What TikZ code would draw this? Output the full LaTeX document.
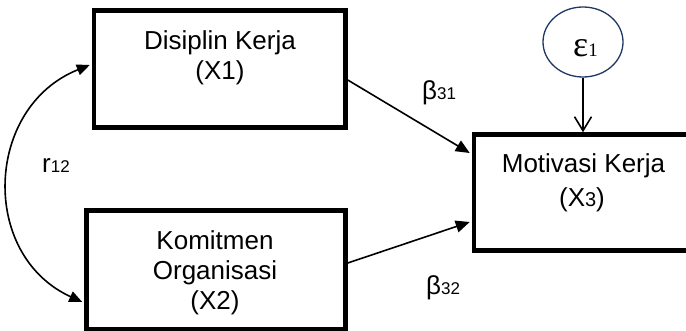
\documentclass[tikz,border=0pt]{standalone}
\usepackage{fontspec}
\setmainfont{Liberation Sans}
\newfontfamily\greekserif{Liberation Serif}
\usetikzlibrary{arrows.meta,shapes.geometric}

\definecolor{ringblue}{RGB}{31,56,100}

\begin{document}
\begin{tikzpicture}[x=1pt,y=-1pt,
  varbox/.style={draw=black, line width=4.5pt, miter limit=10, rectangle, inner sep=0pt},
  label/.style={inner sep=0pt, anchor=base, font=\fontsize{26}{30}\selectfont},
  coef/.style={inner sep=0pt, anchor=base west, font=\fontsize{26}{30}\selectfont},
  path/.style={line width=1.6pt, -{Triangle[length=14pt,width=12pt]}},
  corr/.style={line width=1.6pt, {Triangle[length=13pt,width=11pt]}-{Triangle[length=13pt,width=11pt]}},
  err/.style={line width=1.6pt, -{Straight Barb[length=14pt,width=17pt]}}
]
\path[fill=white, use as bounding box] (0,0) rectangle (686,331);

% latent variable boxes
\node[varbox, minimum width=251.5pt, minimum height=117pt] (kerja) at (219.75,69) {};
\node[varbox, minimum width=259pt, minimum height=118.5pt] (org) at (216,269.75) {};
\node[varbox, minimum width=246pt, minimum height=116pt] (motiv) at (597,192.5) {};

% box captions
\node[label] (k1) at (220,50) {Disiplin Kerja};
\node[label] (k2) at (220,80) {(X1)};
\node[label] (o1) at (215,250) {Komitmen};
\node[label] (o2) at (215,280) {Organisasi};
\node[label] (o3) at (215,310) {(X2)};
\node[label] (m1) at (583.5,173) {Motivasi Kerja};
\node[label] (m2) at (582,207) {(X{\fontsize{20}{24}\selectfont 3})};

% error term
\node[draw=ringblue, line width=1.3pt, ellipse, minimum width=80pt, minimum height=70pt, inner sep=0pt] (eps) at (583,42) {};
\node[inner sep=0pt, anchor=base west] (epslab) at (573,57)
  {\greekserif\fontsize{36}{40}\selectfont ε\fontsize{19}{22}\selectfont 1};

% paths
\draw[path] ([yshift=-11pt]kerja.east) -- ([yshift=39.5pt,xshift=-2pt]motiv.west);
\draw[path] ([yshift=6.75pt]org.east) -- ([yshift=-29.5pt,xshift=-2pt]motiv.west);
\draw[err] (eps.south) -- (eps.south |- motiv.north);
\draw[corr] ([yshift=4pt,xshift=-2pt]kerja.west)
  .. controls +(-105,42) and +(-103,-47) .. ([yshift=-32.25pt,xshift=-2pt]org.west);

% coefficients
\node[coef] (b31) at (422,100) {β{\fontsize{17}{20}\selectfont 31}};
\node[coef] (b32) at (426,295) {β{\fontsize{17}{20}\selectfont 32}};
\node[coef] (r12) at (42,173) {r{\fontsize{17}{20}\selectfont 12}};
\end{tikzpicture}
\end{document}
